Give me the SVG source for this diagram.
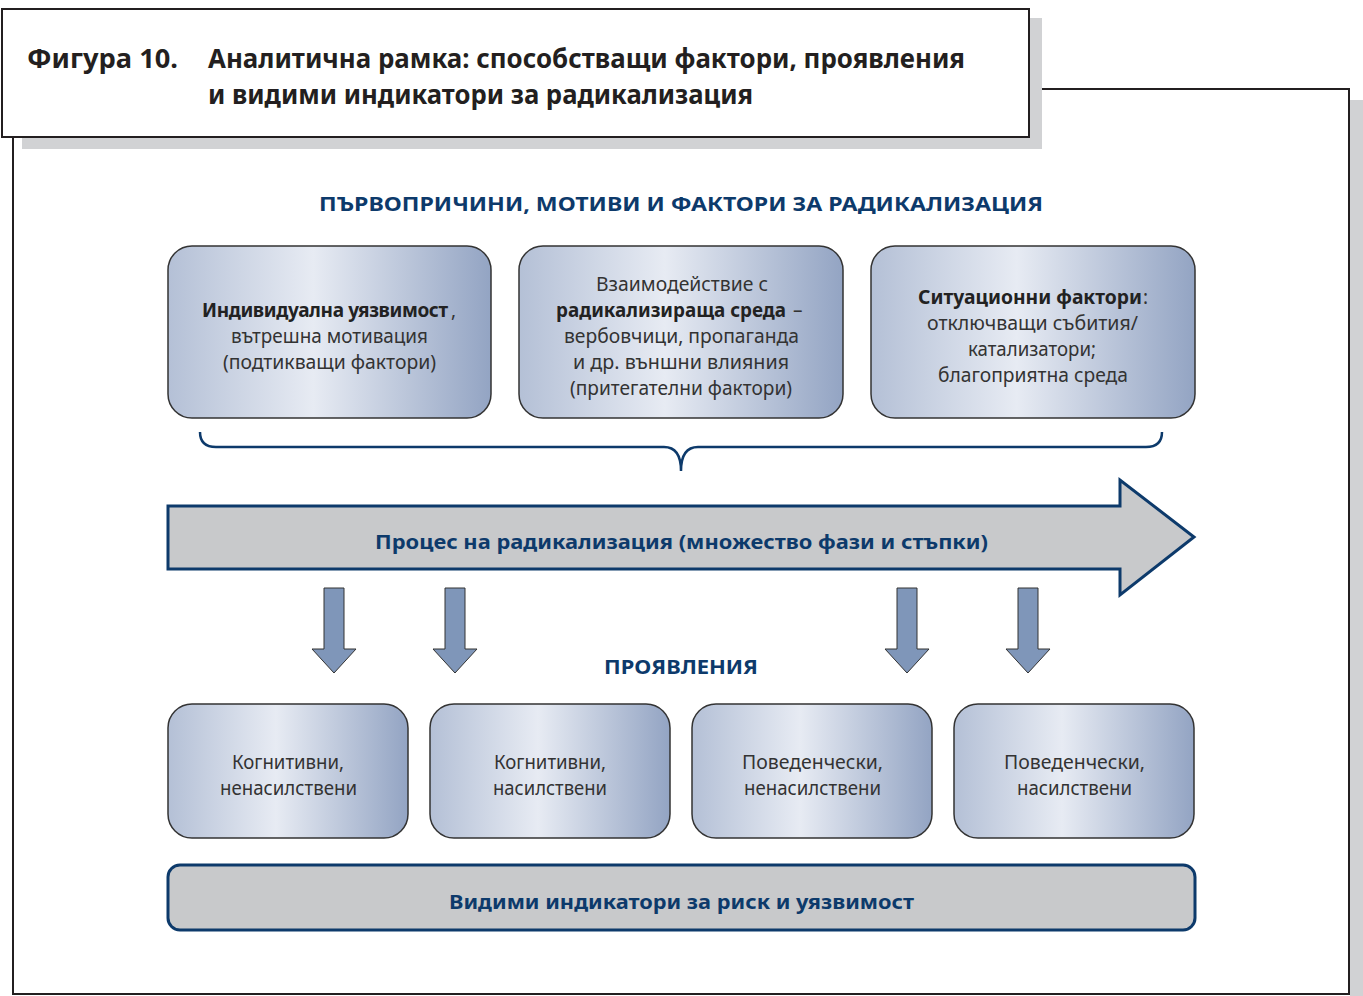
<svg xmlns="http://www.w3.org/2000/svg" width="1363" height="996" viewBox="0 0 1363 996">
<defs>
<linearGradient id="boxGrad" x1="0" y1="0" x2="1" y2="0">
<stop offset="0" stop-color="#b4c0d6"/>
<stop offset="0.45" stop-color="#e7ebf3"/>
<stop offset="1" stop-color="#93a4c3"/>
</linearGradient>
<style>
.box{fill:url(#boxGrad);stroke:#333;stroke-width:1.5}
.t{font-family:"Noto Sans","DejaVu Sans",sans-serif;font-size:19px;fill:#333;text-anchor:middle}
.s{text-anchor:start}
.b{font-weight:bold;fill:#222}
.hdr{font-family:"Noto Sans","DejaVu Sans",sans-serif;font-size:20px;font-weight:bold;fill:#0d3a6b;text-anchor:middle}
.ttl{font-family:"Noto Sans","DejaVu Sans",sans-serif;font-size:26px;font-weight:bold;fill:#231f20}
.down{fill:#7f96b9;stroke:#333;stroke-width:1}
.gray{fill:#c8c9cb;stroke:#0d3a6b;stroke-width:3}
</style>
</defs>
<rect width="1363" height="996" fill="#fff"/>
<!-- frame shadow and frame -->
<rect x="1350" y="100" width="13" height="896" fill="#d1d2d4"/>
<rect x="13" y="89" width="1336" height="905" fill="#fff" stroke="#231f20" stroke-width="2"/>
<!-- title -->
<g id="title">
<rect x="22" y="18" width="1020" height="131" fill="#d1d2d4"/>
<rect x="2" y="9" width="1027" height="128" fill="#fff" stroke="#231f20" stroke-width="2"/>
<text class="ttl" x="27" y="68" textLength="151" lengthAdjust="spacingAndGlyphs">Фигура 10.</text>
<text class="ttl" x="208" y="68" textLength="757" lengthAdjust="spacingAndGlyphs">Аналитична рамка: способстващи фактори, проявления</text>
<text class="ttl" x="208" y="104" textLength="545" lengthAdjust="spacingAndGlyphs">и видими индикатори за радикализация</text>
</g>
<text id="hdr1" class="hdr" x="681" y="211" textLength="724" lengthAdjust="spacingAndGlyphs">ПЪРВОПРИЧИНИ, МОТИВИ И ФАКТОРИ ЗА РАДИКАЛИЗАЦИЯ</text>
<!-- top boxes -->
<g id="box-individual">
<rect class="box" x="168" y="246" width="323" height="172" rx="24"/>
<text class="t s b" x="202" y="317" font-size="17.5" textLength="246" lengthAdjust="spacing">Индивидуална уязвимост</text>
<text class="t s" x="451" y="317">,</text>
<text class="t" x="329.5" y="343" textLength="197" lengthAdjust="spacingAndGlyphs">вътрешна мотивация</text>
<text class="t" x="329.5" y="369" textLength="213" lengthAdjust="spacingAndGlyphs">(подтикващи фактори)</text>
</g>
<g id="box-environment">
<rect class="box" x="519" y="246" width="324" height="172" rx="24"/>
<text class="t" x="682" y="291" textLength="172" lengthAdjust="spacingAndGlyphs">Взаимодействие с</text>
<text class="t s b" x="556" y="317" textLength="230" lengthAdjust="spacingAndGlyphs">радикализираща среда</text>
<text class="t s" x="793" y="317">–</text>
<text class="t" x="681.5" y="343" textLength="235" lengthAdjust="spacingAndGlyphs">вербовчици, пропаганда</text>
<text class="t" x="681" y="369" textLength="216" lengthAdjust="spacingAndGlyphs">и др. външни влияния</text>
<text class="t" x="681" y="395" textLength="222" lengthAdjust="spacingAndGlyphs">(притегателни фактори)</text>
</g>
<g id="box-situational">
<rect class="box" x="871" y="246" width="324" height="172" rx="24"/>
<text class="t s b" x="918" y="304" textLength="224" lengthAdjust="spacingAndGlyphs">Ситуационни фактори</text>
<text class="t s" x="1143" y="304">:</text>
<text class="t" x="1032.5" y="330" textLength="211" lengthAdjust="spacingAndGlyphs">отключващи събития/</text>
<text class="t" x="1032" y="356" textLength="128" lengthAdjust="spacingAndGlyphs">катализатори;</text>
<text class="t" x="1033" y="382" textLength="190" lengthAdjust="spacingAndGlyphs">благоприятна среда</text>
</g>
<!-- connectors -->
<g id="connectors">
<path d="M200,432 Q200,447 216,447 L664,447 Q681,447 681,471 Q681,447 698,447 L1146,447 Q1162,447 1162,432" fill="none" stroke="#0d3a6b" stroke-width="2.5"/>
<g id="process-arrow">
<path class="gray" d="M168,506 L1120,506 L1120,480 L1194,537 L1120,595 L1120,569 L168,569 Z"/>
<text class="hdr" x="681.5" y="549" font-size="21" textLength="613" lengthAdjust="spacingAndGlyphs">Процес на радикализация (множество фази и стъпки)</text>
</g>
<path class="down" d="M324,588 L344,588 L344,649 L356,649 L334,673 L312,649 L324,649 Z"/>
<path class="down" d="M445,588 L465,588 L465,649 L477,649 L455,673 L433,649 L445,649 Z"/>
<path class="down" d="M897,588 L917,588 L917,649 L929,649 L907,673 L885,649 L897,649 Z"/>
<path class="down" d="M1018,588 L1038,588 L1038,649 L1050,649 L1028,673 L1006,649 L1018,649 Z"/>
</g>
<text id="hdr2" class="hdr" x="681" y="674" textLength="154" lengthAdjust="spacingAndGlyphs">ПРОЯВЛЕНИЯ</text>
<!-- bottom boxes -->
<g id="box-cog-nonviolent">
<rect class="box" x="168" y="704" width="240" height="134" rx="24"/>
<text class="t" x="288" y="769" textLength="112" lengthAdjust="spacingAndGlyphs">Когнитивни,</text>
<text class="t" x="288.5" y="795" textLength="137" lengthAdjust="spacingAndGlyphs">ненасилствени</text>
</g>
<g id="box-cog-violent">
<rect class="box" x="430" y="704" width="240" height="134" rx="24"/>
<text class="t" x="550" y="769" textLength="112" lengthAdjust="spacingAndGlyphs">Когнитивни,</text>
<text class="t" x="550" y="795" textLength="114" lengthAdjust="spacingAndGlyphs">насилствени</text>
</g>
<g id="box-beh-nonviolent">
<rect class="box" x="692" y="704" width="240" height="134" rx="24"/>
<text class="t" x="812.5" y="769" textLength="141" lengthAdjust="spacingAndGlyphs">Поведенчески,</text>
<text class="t" x="812.5" y="795" textLength="137" lengthAdjust="spacingAndGlyphs">ненасилствени</text>
</g>
<g id="box-beh-violent">
<rect class="box" x="954" y="704" width="240" height="134" rx="24"/>
<text class="t" x="1074.5" y="769" textLength="141" lengthAdjust="spacingAndGlyphs">Поведенчески,</text>
<text class="t" x="1074.5" y="795" textLength="115" lengthAdjust="spacingAndGlyphs">насилствени</text>
</g>
<g id="box-indicators">
<rect class="gray" x="168" y="865" width="1027" height="65" rx="12"/>
<text class="hdr" x="681.5" y="909" textLength="465" lengthAdjust="spacingAndGlyphs">Видими индикатори за риск и уязвимост</text>
</g>
</svg>
